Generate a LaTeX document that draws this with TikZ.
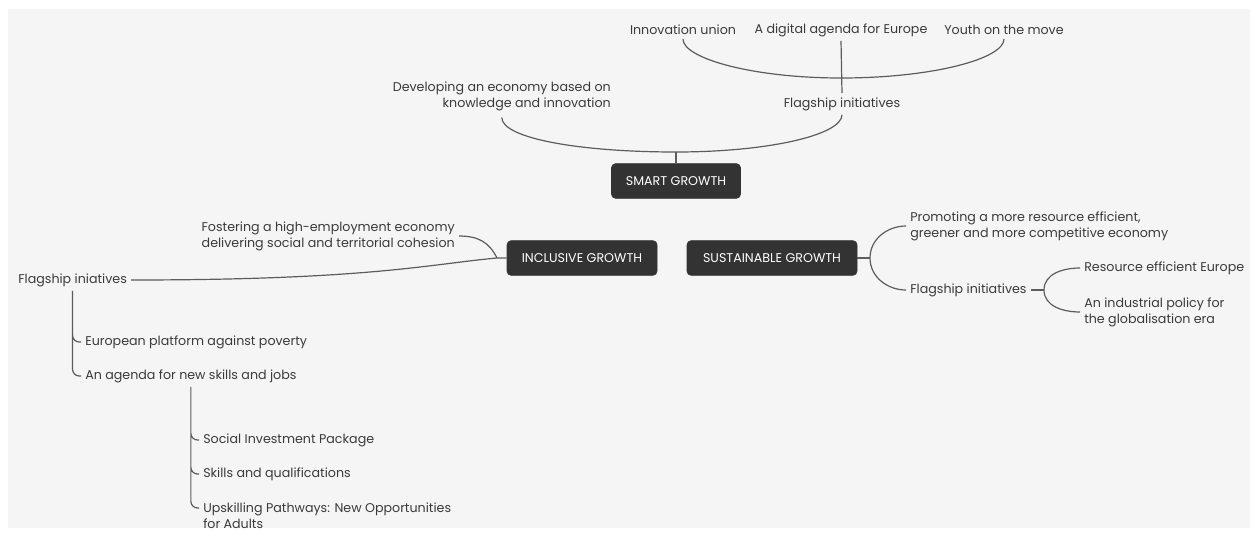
\documentclass[tikz,border=0pt]{standalone}
\usepackage{fontspec}
\setmainfont{Poppins}
\usepackage{tikz}
\definecolor{panel}{HTML}{F5F5F5}
\definecolor{ink}{HTML}{3A3A3A}
\definecolor{hubfill}{HTML}{333333}
\definecolor{wire}{HTML}{5C5C5C}
\tikzset{hub/.style={draw=hubfill, fill=hubfill, rounded corners=3pt, text=white, minimum height=26pt, inner xsep=2pt}, leaf/.style={text=ink, inner sep=3pt}, wire/.style={draw=wire, line width=0.9pt}, flat/.style={out looseness=1.4, in looseness=0.3}, steep/.style={out looseness=0.3, in looseness=1.4}}

\begin{document}
\begin{tikzpicture}[x=0.75pt, y=0.75pt, every node/.style={font=\fontsize{9.5}{12}\selectfont}]
	\useasboundingbox (0,0) rectangle (1256,-539);
	\fill[white] (0,0) rectangle (1256,-539);
	\fill[panel] (8,-9) rectangle (1250,-528);

	\node[hub, minimum width=96.75pt] (Smart Growth) at (676,-181) {SMART GROWTH};
	\node[hub, minimum width=112.5pt] (Inclusive Growth) at (582,-258) {INCLUSIVE GROWTH};
	\node[hub, minimum width=127.5pt] (Sustainable Growth) at (772,-258) {SUSTAINABLE GROWTH};

	\node[leaf, anchor=east, align=right] (Knowledge) at (615,-96) {Developing an economy based on\\ knowledge and innovation};
	\node[leaf] (Smart Flagship) at (842,-104) {Flagship initiatives};
	\node[leaf] (Innovation) at (683,-30) {Innovation union};
	\node[leaf] (Digital) at (841,-30) {A digital agenda for Europe};
	\node[leaf] (Youth) at (1004,-30) {Youth on the move};

	\node[leaf, anchor=east, align=right] (Fostering) at (459,-236) {Fostering a high-employment economy\\ delivering social and territorial cohesion};
	\node[leaf, anchor=west] (Inclusive Flagship) at (14,-280) {Flagship iniatives};
	\node[leaf, anchor=west] (Poverty) at (81,-342) {European platform against poverty};
	\node[leaf, anchor=west] (Skills Jobs) at (81,-376) {An agenda for new skills and jobs};
	\node[leaf, anchor=west] (Social) at (199,-440) {Social Investment Package};
	\node[leaf, anchor=west] (Qualifications) at (199,-474) {Skills and qualifications};
	\node[leaf, anchor=west, align=left] (Upskilling) at (199,-516) {Upskilling Pathways: New Opportunities\\ for Adults};

	\node[leaf, anchor=west, align=left] (Promoting) at (906,-226) {Promoting a more resource efficient,\\ greener and more competitive economy};
	\node[leaf, anchor=west] (Sustainable Flagship) at (906,-290) {Flagship initiatives};
	\node[leaf, anchor=west] (Resource) at (1080,-268) {Resource efficient Europe};
	\node[leaf, anchor=west, align=left] (Industrial) at (1080,-312) {An industrial policy for\\ the globalisation era};

	\coordinate (Smart Fork) at (676,-152);
	\coordinate (Flagship Fork) at (841,-78);
	\coordinate (Inclusive Fork) at (497,-258);
	\coordinate (Sustainable Fork) at (870,-258);
	\coordinate (Green Fork) at (1044,-290);

	\draw[wire]
		(Smart Growth.north) -- (Smart Fork)
		(Smart Fork) edge[out=180, in=-90, flat] ([yshift=-2pt]Knowledge.south)
		(Smart Fork) edge[out=0, in=-90, flat] (Smart Flagship.south)
		(Smart Flagship.north) edge (Digital.south)
		(Innovation.south) edge[out=-90, in=180, steep] (Flagship Fork)
		(Flagship Fork) edge[out=0, in=-90, flat] (Youth.south);

	\draw[wire]
		(Inclusive Growth.west) -- (Inclusive Fork)
		(Inclusive Fork) .. controls (489,-242) and (478,-236) .. (Fostering.east)
		(Inclusive Fork) .. controls (430,-264) and (370,-280) .. (Inclusive Flagship.east);
	\draw[wire, rounded corners=5pt]
		(Inclusive Flagship.south) |- (Poverty.west)
		(Inclusive Flagship.south) |- (Skills Jobs.west)
		(Skills Jobs.south) |- (Social.west)
		(Skills Jobs.south) |- (Qualifications.west)
		(Skills Jobs.south) |- ([yshift=6pt]Upskilling.west);

	\draw[wire]
		(Sustainable Growth.east) -- (Sustainable Fork)
		(Sustainable Fork) edge[out=90, in=180] (Promoting.west)
		(Sustainable Fork) edge[out=-90, in=180] (Sustainable Flagship.west)
		(Sustainable Flagship.east) -- (Green Fork)
		(Green Fork) edge[out=90, in=180] (Resource.west)
		(Green Fork) edge[out=-90, in=180] (Industrial.west);
\end{tikzpicture}
\end{document}
